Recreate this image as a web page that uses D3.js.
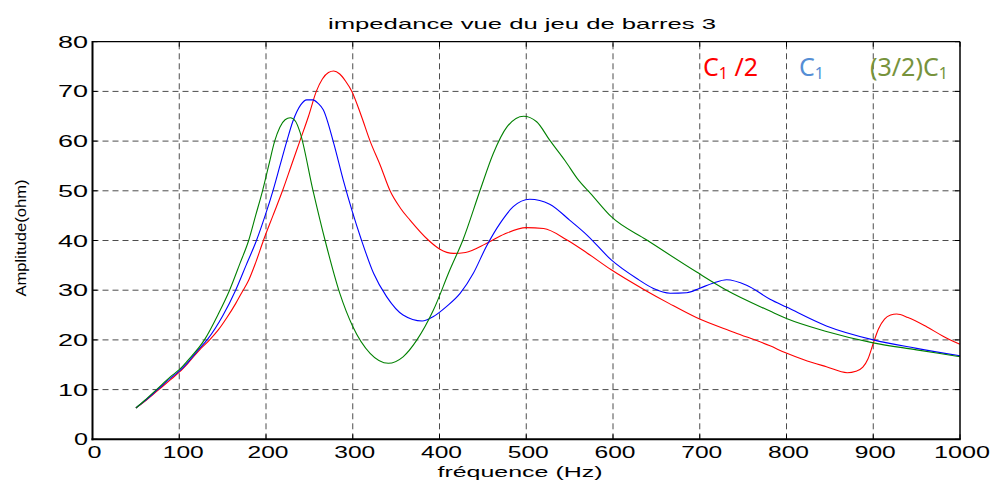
<!DOCTYPE html>
<html>
<head>
<meta charset="utf-8">
<script src="https://cdn.jsdelivr.net/npm/d3@7"></script>
<style>
  body { margin: 0; background: #fff; }
  svg { display: block; font-family: "Liberation Sans", Arial, sans-serif; }
  .grid line { stroke: #4d4d4d; stroke-width: 1; stroke-dasharray: 6 4; }
  .data-line { fill: none; stroke-width: 1.1; }
</style>
</head>
<body>
<svg id="chart" width="996" height="481"></svg>
<script>
// frequency (Hz) / amplitude (ohm)
const redFreq = [50, 60, 75, 90, 100, 110, 125, 135, 145, 155, 165, 172, 180, 188, 197, 208, 219, 229, 239, 249, 258, 265, 272, 278, 285, 292, 299, 310, 320, 332, 343, 355, 366, 387, 400, 416, 430, 454, 475, 500, 520, 547, 570, 598, 637, 665, 696, 740, 781, 799, 820, 846, 870, 880, 888, 894, 900, 906, 913, 920, 927, 940, 962, 980, 1000];
const redAmp = [6.3, 7.6, 9.8, 12.0, 13.5, 15.3, 18.3, 20.0, 22.0, 24.5, 27.3, 29.5, 32.0, 35.5, 40.0, 45.0, 50.0, 55.0, 60.0, 65.0, 70.0, 72.5, 73.8, 74.1, 73.5, 72.0, 70.0, 65.0, 60.0, 55.0, 50.0, 46.5, 44.1, 40.1, 38.3, 37.4, 37.6, 39.4, 41.3, 42.6, 42.4, 40.1, 37.5, 34.1, 30.0, 27.3, 24.5, 21.5, 18.8, 17.4, 16.0, 14.6, 13.4, 13.7, 14.5, 16.2, 19.3, 22.2, 24.2, 25.0, 25.2, 24.5, 22.6, 20.8, 19.1];

const blueFreq = [50, 60, 75, 90, 100, 110, 122, 133, 150, 165, 177, 189, 199, 208, 216, 224, 231, 240, 247, 254, 260, 266, 278, 289, 299, 310, 324, 339, 358, 380, 393, 408, 424, 439, 454, 470, 485, 504, 527, 550, 570, 598, 627, 646, 666, 685, 700, 715, 731, 754, 781, 800, 846, 900, 950, 1000];
const blueAmp = [6.3, 7.7, 10.0, 12.3, 13.7, 15.5, 18.0, 20.2, 24.8, 30.0, 35.0, 40.0, 45.0, 50.0, 55.0, 60.0, 64.0, 67.3, 68.3, 68.3, 67.6, 66.3, 59.6, 52.2, 46.1, 40.1, 33.4, 28.7, 25.0, 23.8, 24.7, 26.7, 29.4, 33.4, 38.8, 43.5, 46.8, 48.3, 47.3, 44.1, 41.1, 36.1, 32.4, 30.4, 29.4, 29.5, 30.4, 31.4, 32.1, 31.0, 28.2, 26.6, 22.8, 20.0, 18.3, 16.8];

const greenFreq = [50, 60, 75, 90, 100, 110, 129, 145, 158, 170, 180, 188, 196, 203, 210, 216, 222, 228, 234, 239, 254, 268, 285, 300, 320, 341, 358, 374, 393, 412, 427, 447, 462, 478, 497, 512, 527, 545, 560, 574, 598, 639, 696, 731, 781, 800, 846, 900, 950, 1000];
const greenAmp = [6.3, 7.8, 10.2, 12.6, 14.0, 15.9, 20.0, 25.2, 30.0, 35.4, 40.0, 45.0, 50.0, 55.0, 60.0, 62.8, 64.3, 64.7, 64.0, 61.9, 50.2, 40.1, 29.4, 22.7, 17.3, 15.3, 16.6, 20.0, 26.0, 34.1, 40.1, 50.2, 57.5, 62.9, 65.0, 63.9, 60.2, 56.0, 52.2, 49.5, 44.8, 40.1, 33.7, 30.0, 25.8, 24.3, 21.7, 19.4, 18.0, 16.6];

const xTicks = [0, 100, 200, 300, 400, 500, 600, 700, 800, 900, 1000];
const yTicks = [0, 10, 20, 30, 40, 50, 60, 70, 80];

const series = [
  { freq: redFreq, amp: redAmp, color: "#ff0000" },
  { freq: blueFreq, amp: blueAmp, color: "#0000ff" },
  { freq: greenFreq, amp: greenAmp, color: "#008000" },
];

const PLOT = { left: 92.5, right: 960, top: 41.7, bottom: 439.3 };

const svg = d3.select("#chart");

const xScale = d3.scaleLinear().domain([0, 1000]).range([PLOT.left, PLOT.right]);
const yScale = d3.scaleLinear().domain([0, 80]).range([PLOT.bottom, PLOT.top]);

// grid
const grid = svg.append("g").attr("class", "grid");
grid
  .selectAll(".vgrid")
  .data(xTicks.slice(1, -1))
  .join("line")
  .attr("x1", (d) => xScale(d))
  .attr("x2", (d) => xScale(d))
  .attr("y1", PLOT.bottom)
  .attr("y2", PLOT.top);
grid
  .selectAll(".hgrid")
  .data(yTicks.slice(1, -1))
  .join("line")
  .attr("class", "hgrid")
  .attr("x1", PLOT.left)
  .attr("x2", PLOT.right)
  .attr("y1", (d) => yScale(d))
  .attr("y2", (d) => yScale(d));

// ticks inside the box, matlab style
const tickLen = 5;
const ticks = svg.append("g").attr("stroke", "#000").attr("stroke-width", 1);
xTicks.forEach((t) => {
  ticks.append("line").attr("x1", xScale(t)).attr("x2", xScale(t)).attr("y1", PLOT.bottom).attr("y2", PLOT.bottom - tickLen);
  ticks.append("line").attr("x1", xScale(t)).attr("x2", xScale(t)).attr("y1", PLOT.top).attr("y2", PLOT.top + tickLen);
});
yTicks.forEach((t) => {
  ticks.append("line").attr("x1", PLOT.left).attr("x2", PLOT.left + tickLen).attr("y1", yScale(t)).attr("y2", yScale(t));
  ticks.append("line").attr("x1", PLOT.right).attr("x2", PLOT.right - tickLen).attr("y1", yScale(t)).attr("y2", yScale(t));
});

// curves
const line = d3
  .line()
  .x((d) => xScale(d[0]))
  .y((d) => yScale(d[1]))
  .curve(d3.curveMonotoneX);

svg
  .selectAll(".data-line")
  .data(series)
  .join("path")
  .attr("class", "data-line")
  .attr("stroke", (d) => d.color)
  .attr("d", (d) => line(d.freq.map((f, i) => [f, d.amp[i]])));

// frame
svg.append("line").attr("x1", PLOT.left).attr("x2", PLOT.right).attr("y1", PLOT.top).attr("y2", PLOT.top).attr("stroke", "#000").attr("stroke-width", 1.2);
svg.append("line").attr("x1", PLOT.right).attr("x2", PLOT.right).attr("y1", PLOT.top).attr("y2", PLOT.bottom).attr("stroke", "#000").attr("stroke-width", 1.5);
svg.append("line").attr("x1", PLOT.left).attr("x2", PLOT.left).attr("y1", PLOT.top - 0.6).attr("y2", PLOT.bottom + 1).attr("stroke", "#000").attr("stroke-width", 2);
svg.append("line").attr("x1", PLOT.left - 1).attr("x2", PLOT.right + 0.75).attr("y1", PLOT.bottom).attr("y2", PLOT.bottom).attr("stroke", "#000").attr("stroke-width", 2);

// tick labels, stretched like the exported figure
const labelWidth = (s) => (s.length === 1 ? 14 : s.length === 2 ? 30 : s.length === 3 ? 41 : 56);

svg
  .selectAll(".x-label")
  .data(xTicks)
  .join("text")
  .attr("class", "x-label")
  .attr("x", (d) => xScale(d) + (d === 100 ? 4 : 2))
  .attr("y", 458)
  .attr("text-anchor", "middle")
  .attr("font-size", 16)
  .attr("textLength", (d) => labelWidth(String(d)))
  .attr("lengthAdjust", "spacingAndGlyphs")
  .text((d) => d);

svg
  .selectAll(".y-label")
  .data(yTicks)
  .join("text")
  .attr("class", "y-label")
  .attr("x", 88)
  .attr("y", (d) => yScale(d) + 6)
  .attr("text-anchor", "end")
  .attr("font-size", 16)
  .attr("textLength", (d) => labelWidth(String(d)))
  .attr("lengthAdjust", "spacingAndGlyphs")
  .text((d) => d);

// titles
svg
  .append("text")
  .attr("x", 522)
  .attr("y", 29)
  .attr("text-anchor", "middle")
  .attr("font-size", 15)
  .attr("textLength", 388)
  .attr("lengthAdjust", "spacingAndGlyphs")
  .text("impedance vue du jeu de barres 3");

svg
  .append("text")
  .attr("x", 520)
  .attr("y", 477)
  .attr("text-anchor", "middle")
  .attr("font-size", 15)
  .attr("textLength", 165)
  .attr("lengthAdjust", "spacingAndGlyphs")
  .text("fréquence (Hz)");

svg
  .append("text")
  .attr("transform", "translate(26, 238) rotate(-90)")
  .attr("text-anchor", "middle")
  .attr("font-size", 15)
  .attr("textLength", 117)
  .attr("lengthAdjust", "spacingAndGlyphs")
  .text("Amplitude(ohm)");

// legend labels placed on the plot
const legend = [
  { x: 703, pre: "C", sub: "1", post: " /2", color: "#ff0000" },
  { x: 799, pre: "C", sub: "1", post: "", color: "#558ed5" },
  { x: 870, pre: "(3/2)C", sub: "1", post: "", color: "#77933c" },
];

legend.forEach((d) => {
  const t = svg
    .append("text")
    .attr("x", d.x)
    .attr("y", 76)
    .attr("font-family", "'Noto Sans', 'Open Sans', sans-serif")
    .attr("font-size", 25)
    .attr("fill", d.color);
  t.append("tspan").text(d.pre);
  t.append("tspan").attr("font-size", 16).attr("dy", 3).text(d.sub);
  if (d.post) t.append("tspan").attr("dy", -3).text(d.post);
});
</script>
</body>
</html>
